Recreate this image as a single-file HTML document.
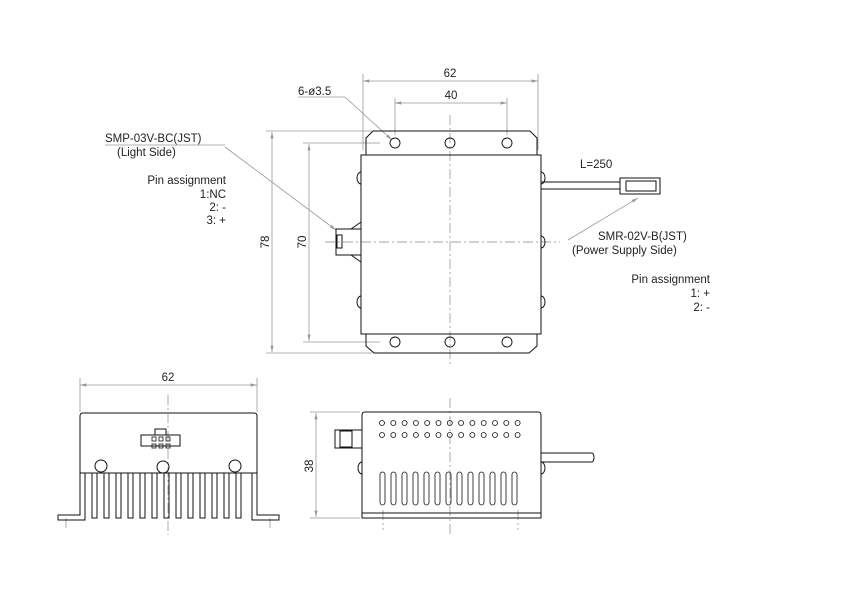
<!DOCTYPE html>
<html><head><meta charset="utf-8"><style>body{margin:0;background:#fff}svg{display:block}text{font-family:"Liberation Sans",sans-serif;font-size:11.5px;fill:#222}</style></head><body>
<svg width="842" height="595" viewBox="0 0 842 595" xmlns="http://www.w3.org/2000/svg">
<defs><marker id="a" markerWidth="8" markerHeight="6" refX="8" refY="3" orient="auto-start-reverse"><path d="M0,1 L8,3 L0,5" fill="#999"/></marker></defs>
<g stroke="#999" stroke-width="0.8" fill="none">
<line x1="363" y1="81" x2="538" y2="81" marker-start="url(#a)" marker-end="url(#a)"/>
<line x1="363" y1="74" x2="363" y2="150"/><line x1="538" y1="74" x2="538" y2="150"/>
<line x1="395" y1="103" x2="507" y2="103" marker-start="url(#a)" marker-end="url(#a)"/>
<line x1="395" y1="98" x2="395" y2="135"/><line x1="507" y1="98" x2="507" y2="135"/>
<line x1="272" y1="132" x2="272" y2="352" marker-start="url(#a)" marker-end="url(#a)"/>
<line x1="266" y1="131" x2="372" y2="131"/><line x1="266" y1="353" x2="372" y2="353"/>
<line x1="309" y1="144" x2="309" y2="341" marker-start="url(#a)" marker-end="url(#a)"/>
<line x1="303" y1="143" x2="380" y2="143"/><line x1="303" y1="342" x2="380" y2="342"/>
<line x1="298" y1="97" x2="345" y2="97"/><line x1="345" y1="97" x2="392" y2="140" marker-end="url(#a)"/>
<line x1="105" y1="145" x2="225" y2="145"/><line x1="225" y1="147" x2="336" y2="230" marker-end="url(#a)"/>
<line x1="568" y1="240" x2="638" y2="198" marker-end="url(#a)"/>
<line x1="80" y1="385" x2="257" y2="385" marker-start="url(#a)" marker-end="url(#a)"/>
<line x1="80" y1="378" x2="80" y2="412"/><line x1="257" y1="378" x2="257" y2="412"/>
<line x1="316" y1="413" x2="316" y2="517" marker-start="url(#a)" marker-end="url(#a)"/>
<line x1="310" y1="412" x2="360" y2="412"/><line x1="310" y1="518" x2="360" y2="518"/>
</g>
<g stroke="#888" stroke-width="0.7" stroke-dasharray="10,3,2,3" fill="none">
<line x1="450" y1="115" x2="450" y2="365"/><line x1="325" y1="242" x2="560" y2="242"/>
<line x1="168" y1="395" x2="168" y2="535"/><line x1="450" y1="398" x2="450" y2="535"/>
<line x1="66" y1="518" x2="66" y2="530"/><line x1="270" y1="518" x2="270" y2="530"/>
<line x1="383" y1="510" x2="383" y2="530"/><line x1="518" y1="510" x2="518" y2="530"/>
</g>
<g stroke="#111" stroke-width="1" fill="none">
<path d="M366,155 L366,138 L373,131 L530,131 L537,138 L537,155"/>
<path d="M366,334 L366,346 L374,353 L529,353 L537,346 L537,334"/>
<rect x="361" y="155" width="180" height="179"/>
<g stroke-width="0.9"><circle cx="395" cy="143" r="5"/><circle cx="450" cy="143" r="5"/><circle cx="507" cy="143" r="5"/><circle cx="395" cy="342" r="5"/><circle cx="450" cy="342" r="5"/><circle cx="507" cy="342" r="5"/></g>
<path d="M361,172 a4,6 0 0 0 0,12 M361,296 a4,6 0 0 0 0,12 M541,172 a4,6 0 0 1 0,12 M541,236 a4,6 0 0 1 0,12 M541,296 a4,6 0 0 1 0,12"/>
<rect x="336" y="229" width="25" height="26"/><rect x="337" y="235" width="5" height="13"/>
<path d="M351,229 L361,222 M351,255 L361,262"/>
<path d="M541,182 L620,182 M541,189 L620,189"/>
<rect x="620" y="178" width="40" height="16"/><rect x="626" y="181" width="30" height="10"/>
<path d="M80,473 L80,416 Q80,413 83,413 L254,413 Q257,413 257,416 L257,473"/>
<line x1="80" y1="473" x2="257" y2="473"/>
<circle cx="101" cy="466" r="6"/><circle cx="163" cy="467" r="6"/><circle cx="235" cy="466" r="6"/>
<rect x="141" y="435" width="39" height="11"/><rect x="155" y="429" width="11" height="6"/>
<g stroke-width="0.8"><rect x="152" y="437" width="4" height="4"/><rect x="159" y="437" width="4" height="4"/><rect x="166" y="437" width="4" height="4"/><rect x="152" y="444" width="4" height="4"/><rect x="159" y="444" width="4" height="4"/><rect x="166" y="444" width="4" height="4"/></g>
<path d="M80,473 L80,515 L58,515 L58,520 L85,520 L85,473 M257,473 L257,515 L279,515 L279,520 L252,520 L252,473"/>
<path d="M92,473V518H97V473M104,473V518H109V473M116,473V518H121V473M128,473V518H133V473M140,473V518H145V473M152,473V518H157V473M164,473V518H169V473M176,473V518H181V473M188,473V518H193V473M200,473V518H205V473M212,473V518H217V473M224,473V518H229V473M236,473V518H241V473"/>
<path d="M362,518 L362,415 Q362,412 365,412 L538,412 Q541,412 541,415 L541,518 Z"/>
<line x1="362" y1="513" x2="541" y2="513"/>
<rect x="335" y="430" width="27" height="18"/><rect x="340" y="431" width="12" height="16"/>
<path d="M362,462 a4,6 0 0 0 0,12 M541,462 a4,6 0 0 1 0,12"/>
<path d="M541,453 L592,453 M541,462 L592,462 M592,453 a2,4.5 0 0 1 0,9"/>
<g stroke-width="0.8">
<g id="r"><circle cx="382" cy="423" r="2.5"/><circle cx="393.3" cy="423" r="2.5"/><circle cx="404.6" cy="423" r="2.5"/><circle cx="415.9" cy="423" r="2.5"/><circle cx="427.2" cy="423" r="2.5"/><circle cx="438.5" cy="423" r="2.5"/><circle cx="449.8" cy="423" r="2.5"/><circle cx="461.1" cy="423" r="2.5"/><circle cx="472.4" cy="423" r="2.5"/><circle cx="483.7" cy="423" r="2.5"/><circle cx="495" cy="423" r="2.5"/><circle cx="506.3" cy="423" r="2.5"/><circle cx="517.6" cy="423" r="2.5"/></g>
<use href="#r" y="12"/>
<g id="s"><rect x="380" y="472" width="5" height="33" rx="2.5"/></g>
<use href="#s" x="11"/><use href="#s" x="22"/><use href="#s" x="33"/><use href="#s" x="44"/><use href="#s" x="55"/><use href="#s" x="66"/><use href="#s" x="77"/><use href="#s" x="88"/><use href="#s" x="99"/><use href="#s" x="110"/><use href="#s" x="121"/><use href="#s" x="132"/>
</g>
</g>
<text x="450" y="77" text-anchor="middle">62</text>
<text x="451" y="99" text-anchor="middle">40</text>
<text x="298" y="95">6-ø3.5</text>
<text x="269" y="242" text-anchor="middle" transform="rotate(-90 269 242)">78</text>
<text x="306" y="242" text-anchor="middle" transform="rotate(-90 306 242)">70</text>
<text x="105" y="142">SMP-03V-BC(JST)</text>
<text x="117" y="156">(Light Side)</text>
<text x="226" y="184" text-anchor="end">Pin assignment</text>
<text x="226" y="198" text-anchor="end">1:NC</text>
<text x="226" y="211" text-anchor="end">2: -</text>
<text x="226" y="224" text-anchor="end">3: +</text>
<text x="580" y="168">L=250</text>
<text x="598" y="240">SMR-02V-B(JST)</text>
<text x="572" y="254">(Power Supply Side)</text>
<text x="710" y="283" text-anchor="end">Pin assignment</text>
<text x="710" y="297" text-anchor="end">1: +</text>
<text x="710" y="311" text-anchor="end">2: -</text>
<text x="168" y="381" text-anchor="middle">62</text>
<text x="313" y="466" text-anchor="middle" transform="rotate(-90 313 466)">38</text>
</svg>
</body></html>
